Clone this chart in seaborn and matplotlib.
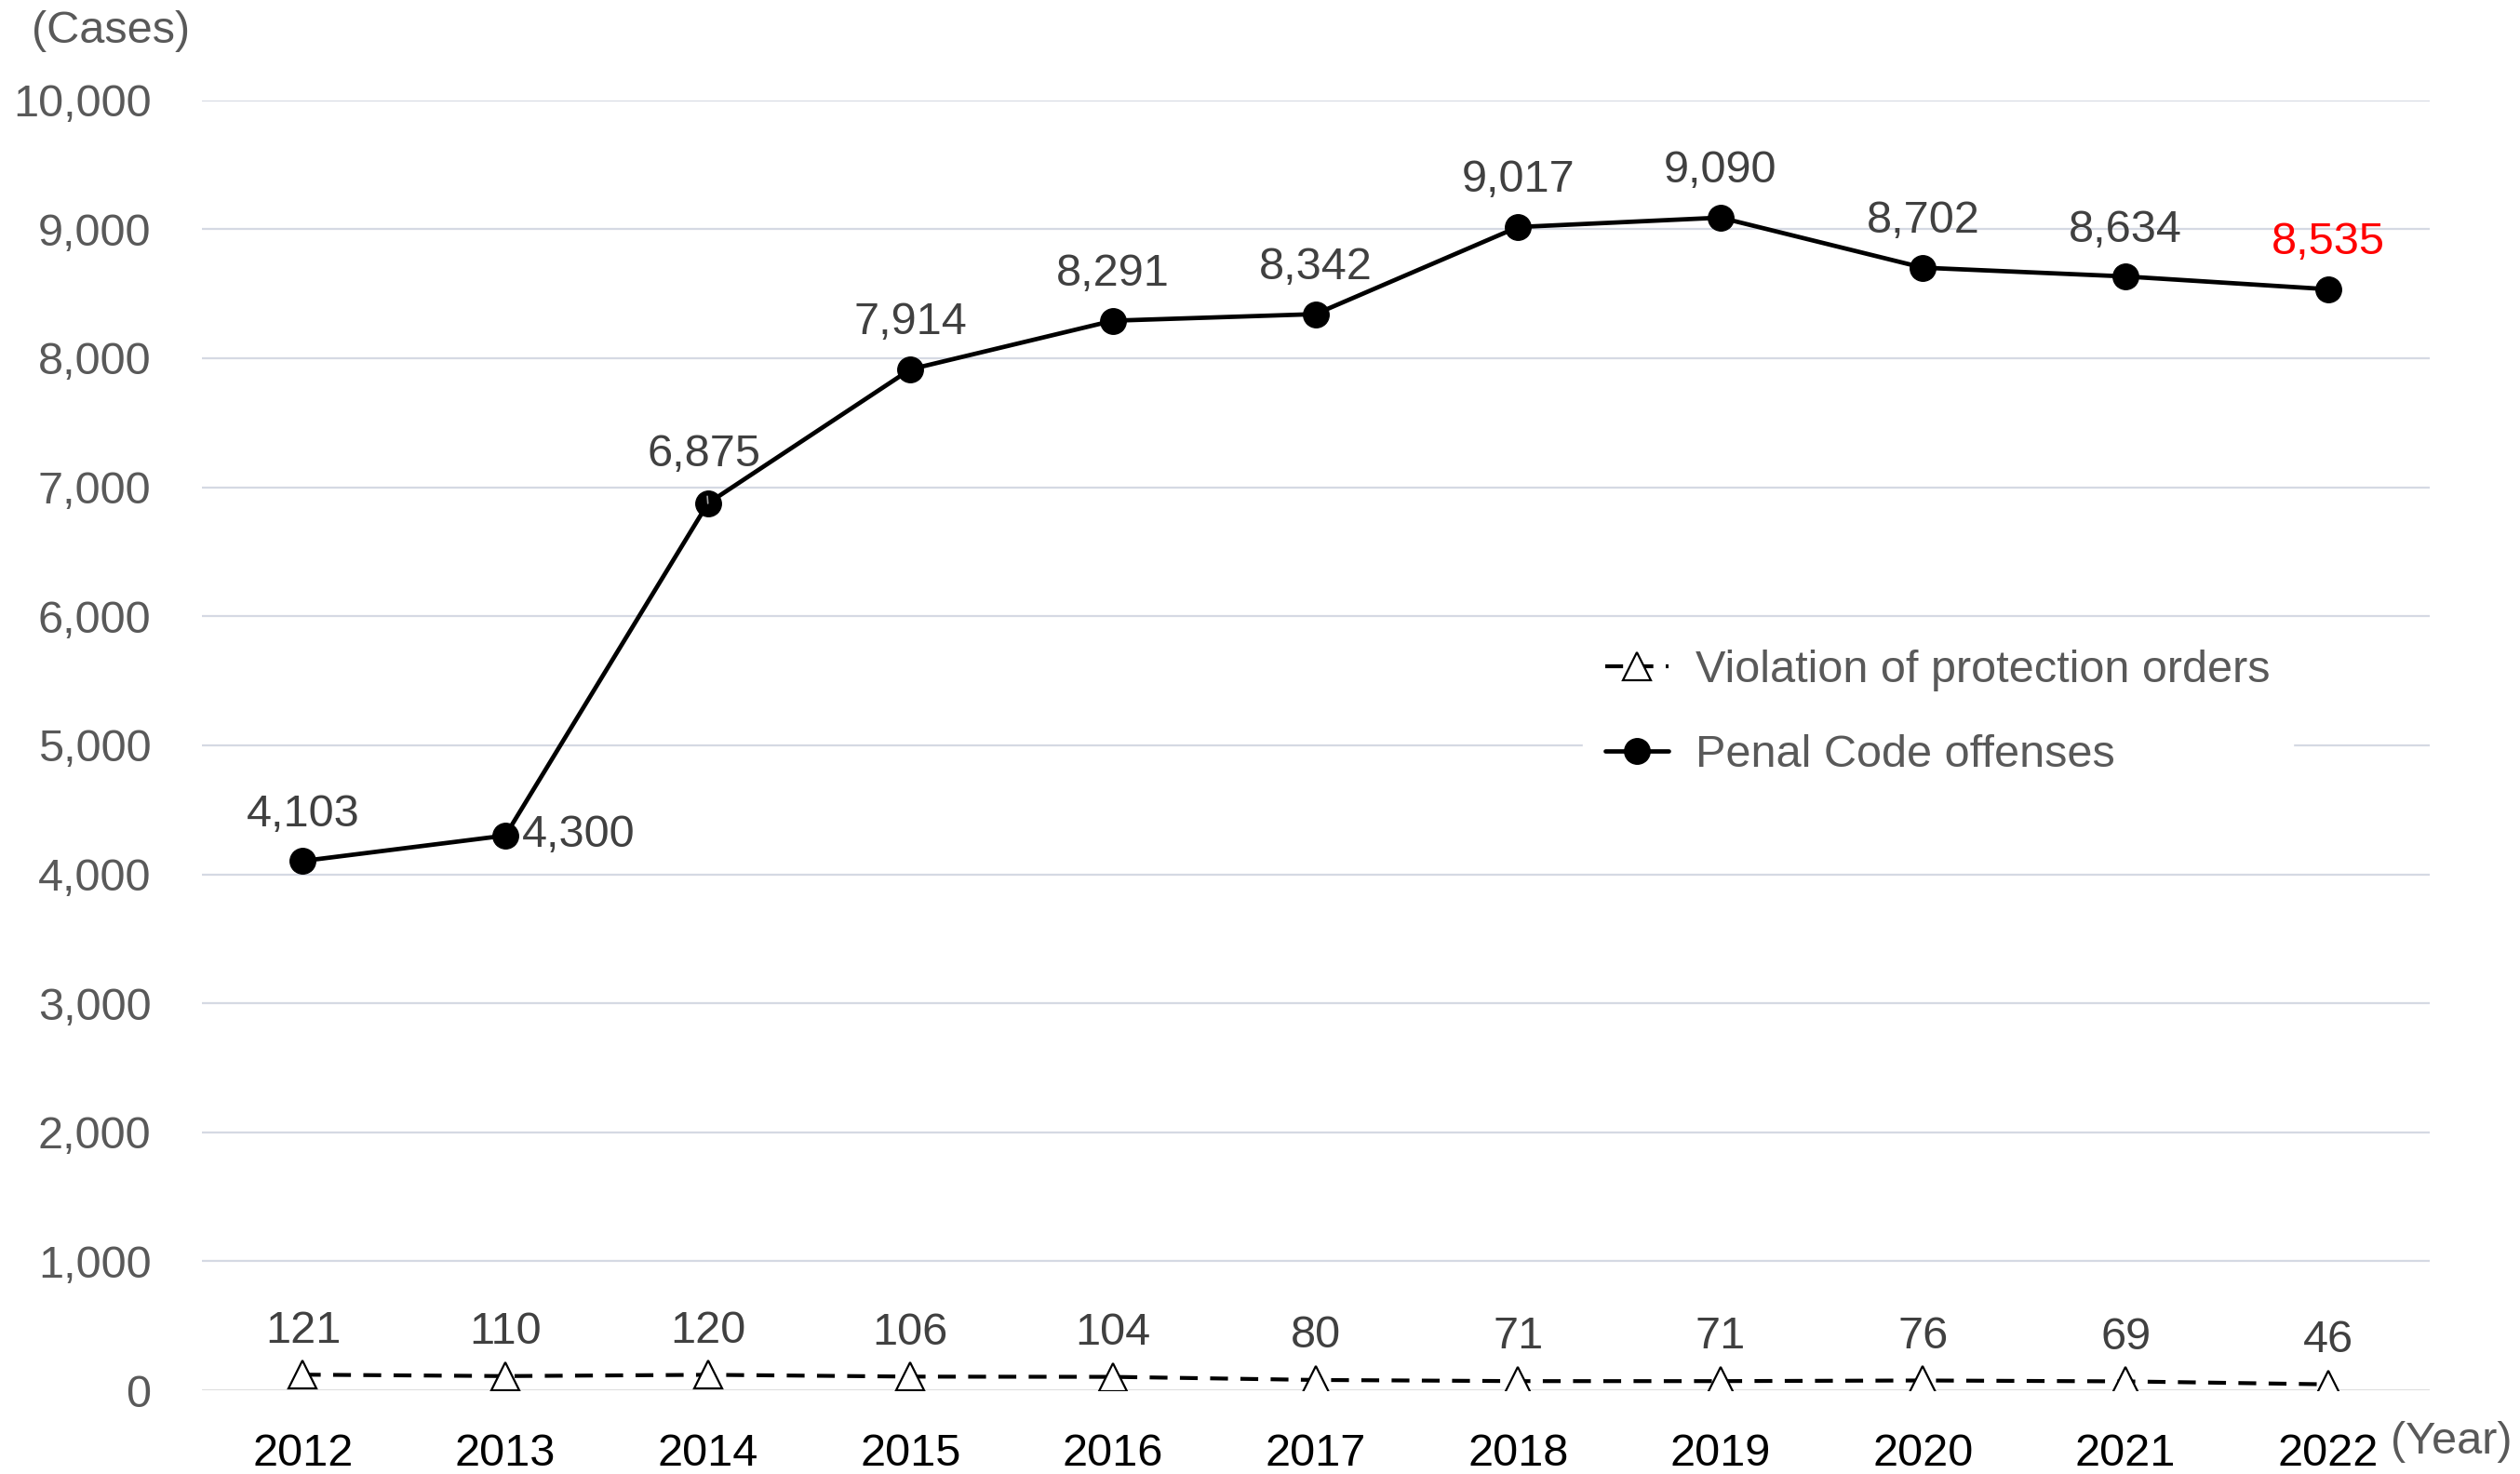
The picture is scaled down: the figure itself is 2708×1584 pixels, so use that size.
import matplotlib
matplotlib.use("Agg")
import matplotlib.pyplot as plt
import seaborn as sns
import pandas as pd

years = ["2012", "2013", "2014", "2015", "2016", "2017", "2018", "2019", "2020", "2021", "2022"]
penal_code = [4103, 4300, 6875, 7914, 8291, 8342, 9017, 9090, 8702, 8634, 8535]
protection_orders = [121, 110, 120, 106, 104, 80, 71, 71, 76, 69, 46]
y_ticks = [0, 1000, 2000, 3000, 4000, 5000, 6000, 7000, 8000, 9000, 10000]

sns.set_theme(style="white")
plt.rcParams["font.family"] = ["Liberation Sans", "DejaVu Sans"]

FS = 35

df = pd.DataFrame({
    "idx": list(range(len(years))) * 2,
    "value": protection_orders + penal_code,
    "series": ["Violation of protection orders"] * len(years) + ["Penal Code offenses"] * len(years),
})

fig = plt.figure(figsize=(27.08, 15.84), dpi=100)
ax = fig.add_axes([0.080, 0.0568, 0.884, 0.8752])

# gridlines
for v in y_ticks[1:]:
    ax.axhline(v, color="#D5D9E3", lw=1.6, zorder=0)
ax.axhline(0, color="#D9D9D9", lw=2.0, zorder=0)

sns.lineplot(data=df[df.series == "Penal Code offenses"], x="idx", y="value", ax=ax,
             color="black", lw=3.4, marker="o", markersize=20, markeredgecolor="black",
             markerfacecolor="black", label="Penal Code offenses", zorder=3)
sns.lineplot(data=df[df.series == "Violation of protection orders"], x="idx", y="value", ax=ax,
             color="black", lw=3.0, linestyle=(0, (4.6, 3.2)), marker="^", markersize=21,
             markeredgecolor="black", markerfacecolor="white", markeredgewidth=1.6,
             label="Violation of protection orders", zorder=3)

ax.set_xlim(-0.5, len(years) - 0.5)
ax.set_ylim(0, 10000)
ax.set_yticks(y_ticks)
ax.set_yticklabels([f"{v:,}" for v in y_ticks], fontsize=FS, color="#595959")
ax.set_xticks(range(len(years)))
ax.set_xticklabels(years, fontsize=FS, color="black")
ax.tick_params(axis="x", length=0, pad=33)
ax.tick_params(axis="y", length=0, pad=39)
ax.set_xlabel("")
ax.set_ylabel("")
for s in ax.spines.values():
    s.set_visible(False)

# value labels
label_col = "#404040"
for i, v in enumerate(penal_code):
    color = "red" if i == len(years) - 1 else label_col
    if i == 1:
        ax.annotate(f"{v:,}", (i, v), xytext=(13, 0), textcoords="offset points",
                    ha="left", va="center", fontsize=FS, color=label_col)
    elif i == 2:
        ax.annotate(f"{v:,}", (i, v), xytext=(-3, 38), textcoords="offset points",
                    ha="center", va="center", fontsize=FS, color=label_col,
                    arrowprops=dict(arrowstyle="-", color="#A6A6A6", lw=1.2,
                                    shrinkA=14, shrinkB=0))
    else:
        ax.annotate(f"{v:,}", (i, v), xytext=(0, 36), textcoords="offset points",
                    ha="center", va="center", fontsize=FS, color=color)
for i, v in enumerate(protection_orders):
    ax.annotate(f"{v:,}", (i, v), xytext=(0, 34), textcoords="offset points",
                ha="center", va="center", fontsize=FS, color=label_col)

handles, labels = ax.get_legend_handles_labels()
order = [labels.index("Violation of protection orders"), labels.index("Penal Code offenses")]
leg = ax.legend([handles[k] for k in order], [labels[k] for k in order],
                loc="upper left", bbox_to_anchor=(0.620, 0.592), frameon=True,
                fontsize=FS, labelcolor="#595959", handlelength=1.4, handletextpad=0.6,
                labelspacing=0.95, borderpad=0.5, borderaxespad=0)
leg.get_frame().set_facecolor("white")
leg.get_frame().set_edgecolor("white")
leg.get_frame().set_alpha(1)

fig.text(0.0125, 0.979, "(Cases)", fontsize=FS, color="#595959", ha="left", va="center")
fig.text(0.997, 0.0215, "(Year)", fontsize=FS, color="#595959", ha="right", va="center")

fig.savefig("out.png", dpi=100, facecolor="white")
